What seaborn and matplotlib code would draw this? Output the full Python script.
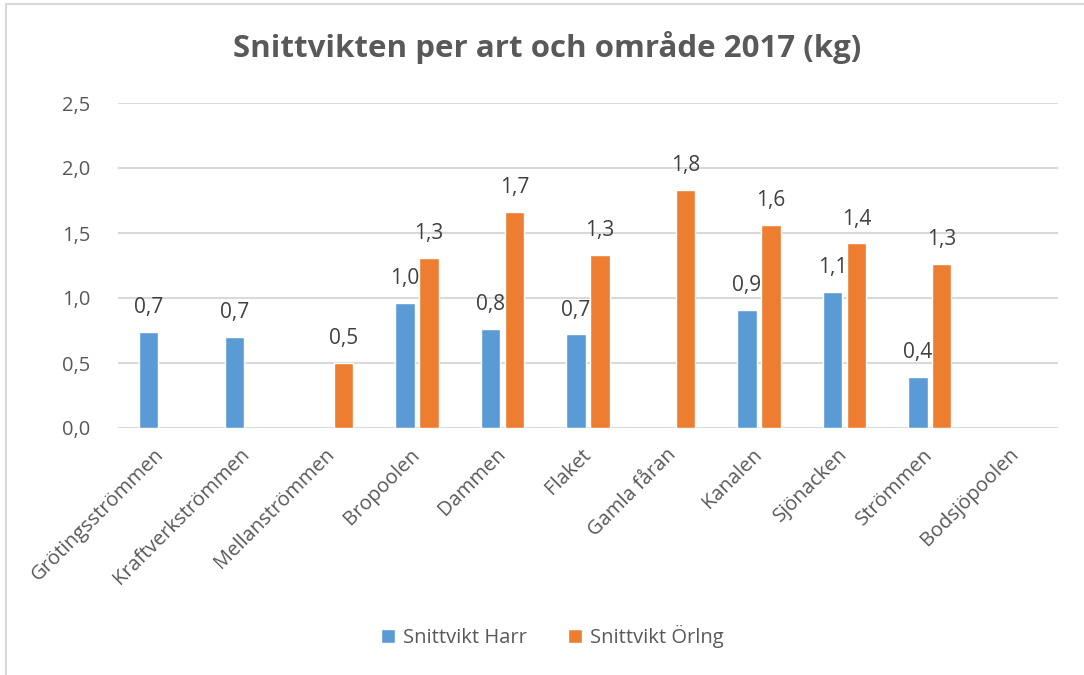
import numpy as np
import pandas as pd
import matplotlib
matplotlib.use("Agg")
import matplotlib.pyplot as plt
from matplotlib.patches import Rectangle
import seaborn as sns

categories = ["Grötingsströmmen", "Kraftverkströmmen", "Mellanströmmen", "Bropoolen",
              "Dammen", "Flaket", "Gamla fåran", "Kanalen", "Sjönacken", "Strömmen",
              "Bodsjöpoolen"]
harr = [0.74, 0.70, None, 0.96, 0.76, 0.72, None, 0.91, 1.05, 0.39, None]
orling = [None, None, 0.50, 1.31, 1.66, 1.33, 1.83, 1.56, 1.42, 1.26, None]
series_names = ["Snittvikt Harr", "Snittvikt Örlng"]
colors = ["#5B9BD5", "#ED7D31"]
yticks = [0.0, 0.5, 1.0, 1.5, 2.0, 2.5]
title = "Snittvikten per art och område 2017 (kg)"

rows = []
for name, vals in zip(series_names, [harr, orling]):
    for c, v in zip(categories, vals):
        if v is not None:
            rows.append({"Område": c, "Serie": name, "Vikt": v})
df = pd.DataFrame(rows)

sns.set_theme(style="white")
plt.rcParams["font.family"] = ["Open Sans", "DejaVu Sans"]

fig = plt.figure(figsize=(10.84, 6.75), dpi=100)
ax = fig.add_axes([118/1084, 1-428/675, (1058-118)/1084, (428-103)/675])

sns.barplot(data=df, x="Område", y="Vikt", hue="Serie", order=categories,
            hue_order=series_names, palette=colors, width=0.56, gap=0.19,
            dodge=True, errorbar=None, ax=ax, legend=True, saturation=1)

ax.set_ylim(0, 2.5)
ax.set_xlim(-0.5, len(categories) - 0.5)
ax.set_yticks(yticks)
ax.set_yticklabels([f"{t:.1f}".replace(".", ",") for t in yticks])
ax.yaxis.grid(True, color="#d9d9d9", linewidth=1.5)
ax.set_axisbelow(True)
for s in ax.spines.values():
    s.set_visible(False)
ax.set_xlabel("")
ax.set_ylabel("")
ax.tick_params(axis="y", length=0, pad=20, labelsize=14.5, labelcolor="#595959")
ax.tick_params(axis="x", length=0, pad=17, labelsize=14.5, labelcolor="#595959")
for lbl in ax.get_xticklabels():
    lbl.set_rotation(45)
    lbl.set_ha("right")
    lbl.set_va("center")
    lbl.set_rotation_mode("anchor")

for cont in ax.containers:
    labels = [f"{v:.1f}".replace(".", ",") for v in cont.datavalues]
    ax.bar_label(cont, labels=labels, padding=10, fontsize=15, color="#404040")

ax.legend(loc="center", bbox_to_anchor=(0.462, -0.642), ncol=2, frameon=False,
          fontsize=14.5, labelcolor="#595959", handlelength=0.7, handleheight=0.7,
          columnspacing=2.0, handletextpad=0.4)

fig.text(547/1084, 1-48/675, title, ha="center", va="center", fontsize=22.5,
         fontweight="bold", color="#595959")

fig.patches.append(Rectangle((6/1084, -0.1), 1.2, 1.1 - 4/675, transform=fig.transFigure,
                             fill=False, edgecolor="#d9d9d9", linewidth=1.5))

fig.savefig("out.png", dpi=100, facecolor="white")
